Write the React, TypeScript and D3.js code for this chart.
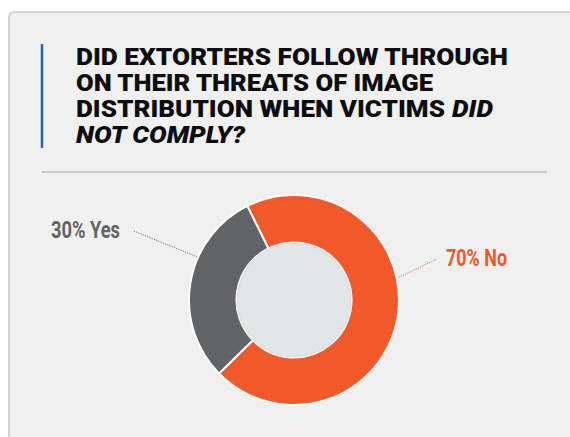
import React from "react";
import * as d3 from "d3";

// ---- data ----
const categories = ["No", "Yes"];
const values = [70, 30];
const labels = ["70% No", "30% Yes"];
const sliceColors = ["#f1592b", "#626365"];
const labelColors = ["#f1592b", "#626365"];
const titleLines = [
  [{ t: "DID EXTORTERS FOLLOW THROUGH", i: false, w: 432 }],
  [{ t: "ON THEIR THREATS OF IMAGE", i: false, w: 357 }],
  [
    { t: "DISTRIBUTION WHEN VICTIMS", i: false, w: 369 },
    { t: "DID", i: true, w: 41 },
  ],
  [{ t: "NOT COMPLY?", i: true, w: 169 }],
];

export default function App() {
  const W = 570;
  const H = 437;
  const cx = 294;
  const cy = 300;
  const rOuter = 105;
  const rInner = 57.5;
  const start = (-26.4 * Math.PI) / 180;

  const pie = d3
    .pie<number>()
    .sort(null)
    .startAngle(start)
    .endAngle(start + 2 * Math.PI);
  const arcs = pie(values);
  const arc = d3.arc<d3.PieArcDatum<number>>().innerRadius(rInner).outerRadius(rOuter);

  const deg = (d: number) => (d * Math.PI) / 180;
  const polar = (a: number, r: number): [number, number] => [
    cx + r * Math.sin(deg(a)),
    cy - r * Math.cos(deg(a)),
  ];

  // leader layout per category: [angle at slice, r at slice, angle at label, r at label]
  const leaders = [
    { a0: 77.8, r0: 107, a1: 74, r1: 149 },
    { a0: -66, r0: 106, a1: -66.7, r1: 175 },
  ];
  const labelPos = [
    { x: 446, y: 265.7, anchor: "start", w: 61 },
    { x: 120, y: 238.3, anchor: "end", w: 69 },
  ];

  const titleFont = "Roboto, 'DejaVu Sans', sans-serif";

  return (
    <svg
      width={W}
      height={H}
      viewBox={`0 0 ${W} ${H}`}
      style={{ position: "fixed", left: 0, top: 0, display: "block", background: "#ffffff" }}
    >
      <defs>
        <filter id="innerBlur" x="-10%" y="-10%" width="120%" height="120%">
          <feGaussianBlur stdDeviation="0.8" />
        </filter>
      </defs>
      {/* card */}
      <path
        d={`M9,${H + 10} L9,18 Q9,12 15,12 L${W + 10},12 L${W + 10},${H + 10} Z`}
        fill="#f0f0f0"
        stroke="#c9c9c9"
        strokeWidth={1.6}
      />
      {/* blue accent bar */}
      <line x1={42} x2={42} y1={44} y2={148} stroke="#2a64a5" strokeWidth={2.5} />
      {/* title */}
      {titleLines.map((line, li) => {
        let x = 76;
        return (
          <g key={li}>
            {line.map((seg, si) => {
              const el = (
                <text
                  key={si}
                  x={x}
                  y={65 + li * 26}
                  fontFamily={titleFont}
                  fontWeight={900}
                  fontStyle={seg.i ? "italic" : "normal"}
                  fontSize={23.5}
                  fill="#0d0d0d"
                  textLength={seg.w}
                  lengthAdjust="spacingAndGlyphs"
                >
                  {seg.t}
                </text>
              );
              x += seg.w + 7;
              return el;
            })}
          </g>
        );
      })}
      {/* separator */}
      <line x1={42} x2={547} y1={172} y2={172} stroke="#bdbdbd" strokeWidth={1.4} />

      {/* donut */}
      <g transform={`translate(${cx},${cy})`}>
        {arcs.map((a, i) => (
          <path
            key={categories[i]}
            d={arc(a) || ""}
            fill={sliceColors[i]}
            stroke="#ffffff"
            strokeWidth={2}
            strokeLinejoin="round"
          />
        ))}
        <circle r={rInner - 0.5} fill="#cfd0d2" filter="url(#innerBlur)" />
        <circle r={rInner - 1.5} fill="#e4e5e7" />
      </g>

      {/* leaders and labels */}
      {categories.map((c, i) => {
        const l = leaders[i];
        const [x0, y0] = polar(l.a0, l.r0);
        const [x1, y1] = polar(l.a1, l.r1);
        const p = labelPos[i];
        return (
          <g key={c}>
            <line
              x1={x0}
              y1={y0}
              x2={x1}
              y2={y1}
              stroke={labelColors[i]}
              strokeWidth={1}
              strokeDasharray="1.2,1.2"
              opacity={0.9}
            />
            <text
              x={p.x}
              y={p.y}
              textAnchor={p.anchor as any}
              fontFamily={titleFont}
              fontWeight={700}
              fontSize={24.5}
              fill={labelColors[i]}
              textLength={p.w}
              lengthAdjust="spacingAndGlyphs"
            >
              {labels[i]}
            </text>
          </g>
        );
      })}
    </svg>
  );
}
